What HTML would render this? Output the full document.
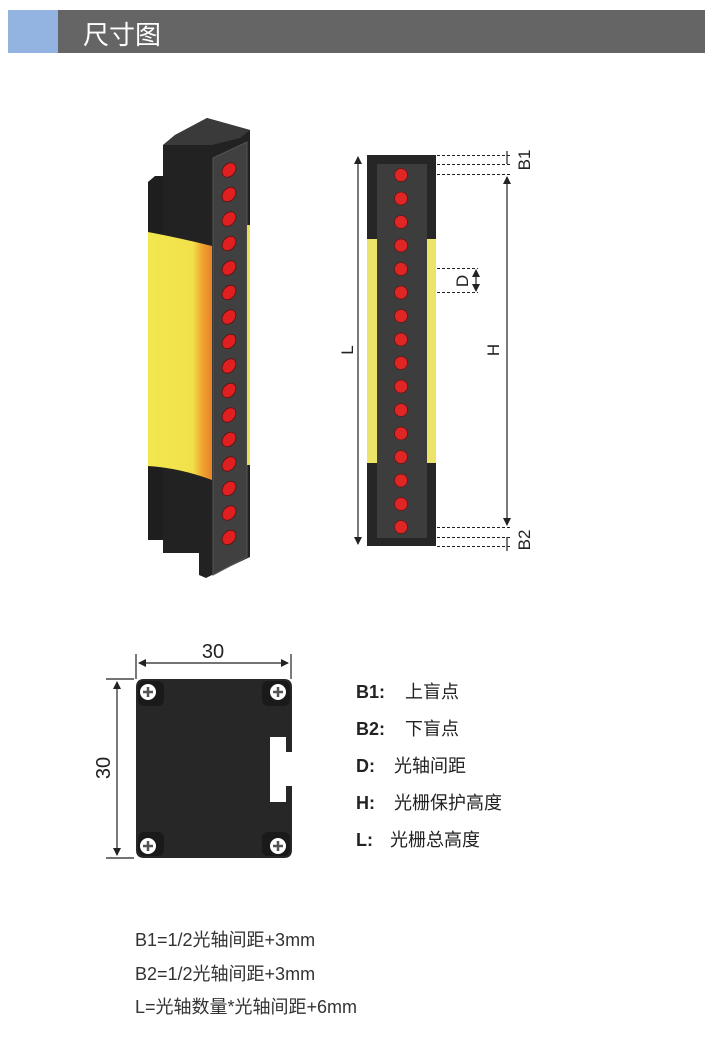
<!DOCTYPE html>
<html><head><meta charset="utf-8"><style>
body{margin:0;width:718px;height:1037px;background:#fff;overflow:hidden;font-family:"Liberation Sans","Noto Sans CJK SC",sans-serif;}
</style></head><body>
<svg width="718" height="1037" viewBox="0 0 718 1037" xmlns="http://www.w3.org/2000/svg" font-family="Liberation Sans, Noto Sans CJK SC, sans-serif">
<defs>
<linearGradient id="og" x1="0" x2="1"><stop offset="0" stop-color="#f2e84f"/><stop offset="0.7" stop-color="#f2e04a"/><stop offset="0.85" stop-color="#efa52e"/><stop offset="1" stop-color="#e8822a"/></linearGradient>
<marker id="ar" markerWidth="8" markerHeight="8" refX="7" refY="4" orient="auto-start-reverse" markerUnits="userSpaceOnUse"><path d="M0,0 L8,4 L0,8 Z" fill="#222"/></marker>
</defs>
<rect x="8" y="10" width="697" height="43" fill="#656565"/>
<rect x="8" y="10" width="50" height="43" fill="#93b3e0"/>
<text x="83" y="44" font-size="26" fill="#fff">尺寸图</text>

<polygon points="148,182 155,176 163,176 163,540 148,540" fill="#1e1e1e"/>
<polygon points="163,145 175,135 207,118 250,130 250,557 212,575 206,578 199,575 199,553 163,553" fill="#222"/>
<polygon points="175,135 207,118 250,130 240,138 212,145 163,145" fill="#3a3a3a"/>
<path d="M148,232 Q180,238 212,246 L212,480 Q180,468 148,466 Z" fill="url(#og)"/>
<polygon points="213,158 247,142 247,557 213,575" fill="#404040" stroke="#555" stroke-width="1"/>
<rect x="247" y="225" width="3" height="240" fill="#e8e050"/>
<g fill="#e02020" stroke="#5a1010" stroke-width="0.8">
<ellipse cx="229" cy="170" rx="6" ry="8" transform="rotate(40 229 170)"/>
<ellipse cx="229" cy="194.5" rx="6" ry="8" transform="rotate(40 229 194.5)"/>
<ellipse cx="229" cy="219" rx="6" ry="8" transform="rotate(40 229 219)"/>
<ellipse cx="229" cy="243.5" rx="6" ry="8" transform="rotate(40 229 243.5)"/>
<ellipse cx="229" cy="268" rx="6" ry="8" transform="rotate(40 229 268)"/>
<ellipse cx="229" cy="292.5" rx="6" ry="8" transform="rotate(40 229 292.5)"/>
<ellipse cx="229" cy="317" rx="6" ry="8" transform="rotate(40 229 317)"/>
<ellipse cx="229" cy="341.5" rx="6" ry="8" transform="rotate(40 229 341.5)"/>
<ellipse cx="229" cy="366" rx="6" ry="8" transform="rotate(40 229 366)"/>
<ellipse cx="229" cy="390.5" rx="6" ry="8" transform="rotate(40 229 390.5)"/>
<ellipse cx="229" cy="415" rx="6" ry="8" transform="rotate(40 229 415)"/>
<ellipse cx="229" cy="439.5" rx="6" ry="8" transform="rotate(40 229 439.5)"/>
<ellipse cx="229" cy="464" rx="6" ry="8" transform="rotate(40 229 464)"/>
<ellipse cx="229" cy="488.5" rx="6" ry="8" transform="rotate(40 229 488.5)"/>
<ellipse cx="229" cy="513" rx="6" ry="8" transform="rotate(40 229 513)"/>
<ellipse cx="229" cy="537.5" rx="6" ry="8" transform="rotate(40 229 537.5)"/>
</g>

<rect x="367" y="155" width="69" height="391" fill="#262626"/>
<rect x="367" y="239" width="69" height="224" fill="#ece468"/>
<rect x="377" y="164" width="50" height="374" fill="#3d3d3d"/>
<g fill="#e02525" stroke="#6a1515" stroke-width="0.8">
<circle cx="401" cy="175" r="6.5"/><circle cx="401" cy="198.5" r="6.5"/><circle cx="401" cy="222" r="6.5"/><circle cx="401" cy="245.5" r="6.5"/>
<circle cx="401" cy="269" r="6.5"/><circle cx="401" cy="292.5" r="6.5"/><circle cx="401" cy="316" r="6.5"/><circle cx="401" cy="339.5" r="6.5"/>
<circle cx="401" cy="363" r="6.5"/><circle cx="401" cy="386.5" r="6.5"/><circle cx="401" cy="410" r="6.5"/><circle cx="401" cy="433.5" r="6.5"/>
<circle cx="401" cy="457" r="6.5"/><circle cx="401" cy="480.5" r="6.5"/><circle cx="401" cy="504" r="6.5"/><circle cx="401" cy="527" r="6.5"/>
</g>
<g stroke="#222" stroke-width="1" stroke-dasharray="3,2">
<line x1="437" y1="155.5" x2="511" y2="155.5"/><line x1="437" y1="164.5" x2="511" y2="164.5"/><line x1="437" y1="174.5" x2="511" y2="174.5"/>
<line x1="437" y1="527.5" x2="511" y2="527.5"/><line x1="437" y1="537.5" x2="511" y2="537.5"/><line x1="437" y1="546.5" x2="511" y2="546.5"/>
<line x1="437" y1="268.5" x2="478" y2="268.5"/><line x1="437" y1="292.5" x2="478" y2="292.5"/>
</g>
<g stroke="#222" stroke-width="1.2" fill="none">
<line x1="358" y1="157" x2="358" y2="544" marker-start="url(#ar)" marker-end="url(#ar)"/>
<line x1="507" y1="177" x2="507" y2="525" marker-start="url(#ar)" marker-end="url(#ar)"/>
<line x1="476" y1="270" x2="476" y2="291" marker-start="url(#ar)" marker-end="url(#ar)"/>
<line x1="507" y1="151" x2="507" y2="164"/><line x1="507" y1="537" x2="507" y2="551"/>
</g>
<g font-size="17" fill="#222">
<text transform="translate(353,350) rotate(-90)" text-anchor="middle">L</text>
<text transform="translate(499,350) rotate(-90)" text-anchor="middle">H</text>
<text transform="translate(468,281) rotate(-90)" text-anchor="middle">D</text>
<text transform="translate(530,160) rotate(-90)" text-anchor="middle">B1</text>
<text transform="translate(530,540) rotate(-90)" text-anchor="middle">B2</text>
</g>

<path d="M136,687 Q136,679 144,679 L284,679 Q292,679 292,687 L292,752 L286,752 L286,737 L270,737 L270,802 L286,802 L286,786 L292,786 L292,850 Q292,858 284,858 L144,858 Q136,858 136,850 Z" fill="#272727"/>
<g fill="#1a1a1a"><rect x="138" y="681" width="26" height="25" rx="6"/><rect x="262" y="681" width="28" height="25" rx="6"/><rect x="138" y="832" width="26" height="24" rx="6"/><rect x="262" y="832" width="28" height="24" rx="6"/></g>
<g>
<circle cx="148" cy="692" r="8" fill="#fff"/><circle cx="278" cy="692" r="8" fill="#fff"/><circle cx="148" cy="846" r="8" fill="#fff"/><circle cx="278" cy="846" r="8" fill="#fff"/>
<g stroke="#555" stroke-width="2.5">
<path d="M143,692h10M148,687v10M273,692h10M278,687v10M143,846h10M148,841v10M273,846h10M278,841v10"/>
</g></g>
<g stroke="#222" stroke-width="1.2">
<line x1="136" y1="654" x2="136" y2="679"/><line x1="291" y1="654" x2="291" y2="679"/>
<line x1="139" y1="663" x2="288" y2="663" marker-start="url(#ar)" marker-end="url(#ar)"/>
<line x1="106" y1="679" x2="134" y2="679"/><line x1="106" y1="858" x2="134" y2="858"/>
<line x1="117" y1="682" x2="117" y2="855" marker-start="url(#ar)" marker-end="url(#ar)"/>
</g>
<text x="213" y="658" font-size="20" fill="#222" text-anchor="middle">30</text>
<text transform="translate(110,768) rotate(-90)" font-size="20" fill="#222" text-anchor="middle">30</text>

<g font-size="18" fill="#222">
<text x="356" y="698" font-weight="bold">B1:</text><text x="405" y="698">上盲点</text>
<text x="356" y="735" font-weight="bold">B2:</text><text x="405" y="735">下盲点</text>
<text x="356" y="772" font-weight="bold">D:</text><text x="394" y="772">光轴间距</text>
<text x="356" y="809" font-weight="bold">H:</text><text x="394" y="809">光栅保护高度</text>
<text x="356" y="846" font-weight="bold">L:</text><text x="390" y="846">光栅总高度</text>
</g>
<g font-size="18" fill="#333">
<text x="135" y="946">B1=1/2光轴间距+3mm</text>
<text x="135" y="980">B2=1/2光轴间距+3mm</text>
<text x="135" y="1013">L=光轴数量*光轴间距+6mm</text>
</g>
</svg>
</body></html>
